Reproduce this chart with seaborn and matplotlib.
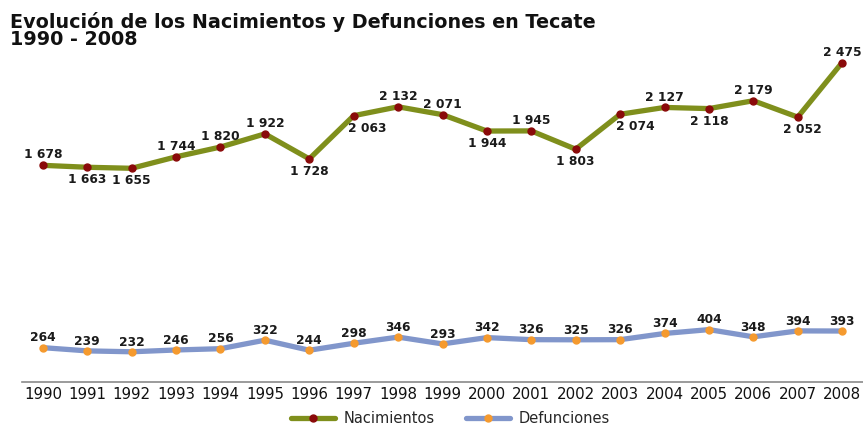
import matplotlib
matplotlib.use("Agg")
import matplotlib.pyplot as plt
from matplotlib.lines import Line2D
import seaborn as sns
import pandas as pd

years = [str(y) for y in range(1990, 2009)]
nacimientos = [1678, 1663, 1655, 1744, 1820, 1922, 1728, 2063, 2132, 2071,
               1944, 1945, 1803, 2074, 2127, 2118, 2179, 2052, 2475]
defunciones = [264, 239, 232, 246, 256, 322, 244, 298, 346, 293,
               342, 326, 325, 326, 374, 404, 348, 394, 393]
# label above (1) or below (-1) each birth point
nac_side = [1, -1, -1, 1, 1, 1, -1, -1, 1, 1, -1, 1, -1, -1, 1, -1, 1, -1, 1]
# small horizontal nudges (points) for a few birth labels
nac_dx = [0, 0, 0, 0, 0, 0, 0, 10, 0, 0, 0, 0, 0, 11, 0, 0, 0, 3, 0]

sns.set_style("white")
plt.rcParams["font.family"] = ["DejaVu Sans"]

df = pd.DataFrame({"year": years * 2,
                   "valor": nacimientos + defunciones,
                   "serie": ["Nacimientos"] * len(years) + ["Defunciones"] * len(years)})

fig = plt.figure(figsize=(8.63, 4.26), dpi=100)
ax = fig.add_axes([22 / 863, 0.104, 1 - 22 / 863, 0.79])

palette = {"Nacimientos": "#7f8f1c", "Defunciones": "#8196cb"}
sns.lineplot(data=df, x="year", y="valor", hue="serie", palette=palette,
             linewidth=3.8, ax=ax, sort=False, legend=False)

ax.plot(years, nacimientos, "o", color="#8a0a0a", markersize=5, zorder=3)
ax.plot(years, defunciones, "o", color="#f59a2e", markersize=5, zorder=3)

# data labels
for x, v, s, dx in zip(years, nacimientos, nac_side, nac_dx):
    ax.annotate(f"{v // 1000} {v % 1000:03d}", (x, v), xytext=(dx, 7.5 if s > 0 else -9),
                textcoords="offset points", ha="center", va="center",
                fontsize=8.8, fontweight="bold", color="#1a1a1a")
for x, v in zip(years, defunciones):
    ax.annotate(str(v), (x, v), xytext=(0, 7), textcoords="offset points",
                ha="center", va="center", fontsize=8.8, fontweight="bold", color="#1a1a1a")

ax.set_ylim(0, 2610)
ax.set_xlim(-0.47, len(years) - 0.53)
ax.set_yticks([])
ax.set_xlabel("")
ax.set_ylabel("")
ax.tick_params(axis="x", length=0, labelsize=10.8, pad=4, colors="#111111")
for side in ["top", "left", "right"]:
    ax.spines[side].set_visible(False)
ax.spines["bottom"].set_color("#8a8a8a")
ax.spines["bottom"].set_linewidth(1.2)

handles = [Line2D([], [], color="#7f8f1c", lw=3.8, marker="o", markersize=5,
                  markerfacecolor="#8a0a0a", markeredgecolor="#8a0a0a"),
           Line2D([], [], color="#8196cb", lw=3.8, marker="o", markersize=5,
                  markerfacecolor="#f59a2e", markeredgecolor="#f59a2e")]
fig.legend(handles, ["Nacimientos", "Defunciones"], loc="center",
           bbox_to_anchor=(0.522, 0.018), ncol=2, frameon=False, fontsize=10.5,
           handlelength=3.0, handletextpad=0.6, columnspacing=2.2, borderaxespad=0,
           borderpad=0)

fig.text(0.012, 0.972, "Evolución de los Nacimientos y Defunciones en Tecate\n1990 - 2008",
         ha="left", va="top", fontsize=13.8, fontweight="bold", linespacing=0.9,
         color="#111111")

fig.savefig("out.png", dpi=100)
